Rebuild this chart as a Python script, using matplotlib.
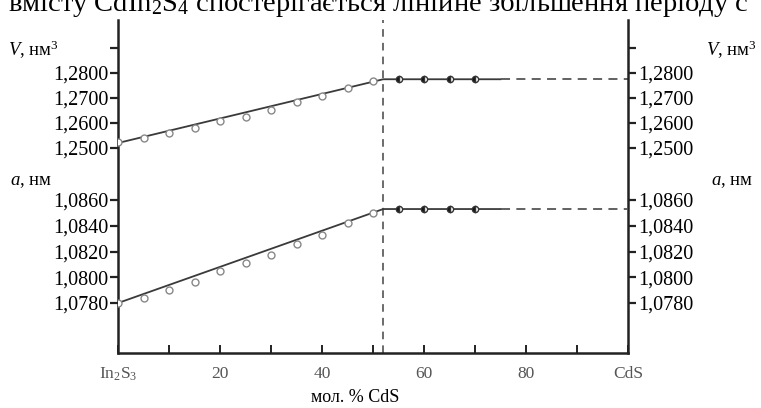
import matplotlib
matplotlib.use("Agg")
import matplotlib.pyplot as plt

plt.rcParams['font.family'] = ['Liberation Serif', 'DejaVu Serif']
plt.rcParams['mathtext.fontset'] = 'custom'
plt.rcParams['mathtext.rm'] = 'Liberation Serif'
plt.rcParams['mathtext.it'] = 'Liberation Serif:italic'

# Data (mol. % CdS vs lattice parameters)
x_open = [0, 5, 10, 15, 20, 25, 30, 35, 40, 45, 50]
v_open = [1.2522, 1.2541, 1.2559, 1.2579, 1.2608, 1.2625, 1.2650, 1.2682, 1.2708, 1.2740, 1.2767]
a_open = [1.0780, 1.0784, 1.0790, 1.0796, 1.0805, 1.0811, 1.0817, 1.0826, 1.0833, 1.0842, 1.0850]

x_closed = [55, 60, 65, 70]
v_closed = [1.2775, 1.2775, 1.2775, 1.2775]
a_closed = [1.0853, 1.0853, 1.0853, 1.0853]

x_fit = [0, 52, 75]
v_fit = [1.2520, 1.2775, 1.2775]
a_fit = [1.0780, 1.0853, 1.0853]

x_ext = [75, 100]
v_ext = [1.2775, 1.2775]
a_ext = [1.0853, 1.0853]

x_boundary = 52

v_ticks = [1.25, 1.26, 1.27, 1.28, 1.29]
v_labels = ['1,2500', '1,2600', '1,2700', '1,2800', '']
a_ticks = [1.078, 1.080, 1.082, 1.084, 1.086]
a_labels = ['1,0780', '1,0800', '1,0820', '1,0840', '1,0860']
x_ticks = [0, 20, 40, 60, 80, 100]
x_labels = ['In$_2$S$_3$', '20', '40', '60', '80', 'CdS']

W, H = 761, 408
fig = plt.figure(figsize=(W / 100, H / 100), dpi=100)
rect = [118 / W, 55 / H, 510 / W, 333 / H]

ax_v = fig.add_axes(rect)
ax_a = fig.add_axes(rect, sharex=ax_v)
ax_a.patch.set_alpha(0)

line_c = '#3a3a3a'
for ax, yo, yc, yf, ye in [(ax_v, v_open, v_closed, v_fit, v_ext),
                           (ax_a, a_open, a_closed, a_fit, a_ext)]:
    ax.plot(x_fit, yf, color=line_c, lw=1.3, zorder=2)
    ax.plot(x_ext, ye, color='#555555', lw=1.3, dashes=(5, 3.5), zorder=2)
    ax.plot(x_open, yo, 'o', ms=5, mfc='white', mec='#888888', mew=1.0, zorder=3)
    ax.plot(x_closed, yc, 'o', ms=4.5, fillstyle='left', mfc='#111111',
            markerfacecoloralt='white', mec='#333333', mew=1.0, zorder=3)

ax_v.set_xlim(0, 100)
ax_v.set_ylim(1.168, 1.3012)
ax_a.set_ylim(1.07412, 1.09998)

ax_v.axvline(x_boundary, color='#444444', lw=1.1, dashes=(5, 4), zorder=1)

# spines
for s in ['left', 'right', 'bottom']:
    ax_v.spines[s].set_linewidth(1.8)
    ax_v.spines[s].set_color('#222222')
ax_v.spines['top'].set_visible(False)
for s in ax_a.spines.values():
    s.set_visible(False)

# y ticks on both sides
ax_v.set_yticks(v_ticks)
ax_v.set_yticklabels(v_labels)
ax_a.set_yticks(a_ticks)
ax_a.set_yticklabels(a_labels)
for ax in (ax_v, ax_a):
    ax.tick_params(axis='y', which='both', left=True, right=True,
                   labelleft=True, labelright=True, direction='out',
                   length=6, width=1.6, pad=1, labelsize=14.5, color='#222222')

# x ticks
ax_v.set_xticks(x_ticks)
ax_v.set_xticklabels(x_labels)
ax_v.set_xticks([10, 30, 50, 70, 90], minor=True)
ax_v.tick_params(axis='x', which='both', direction='in', length=6, width=1.4,
                 pad=9, labelsize=12.5, labelcolor='#555555', color='#222222')
ax_a.tick_params(axis='x', which='both', bottom=False, labelbottom=False)

ax_v.annotate('мол. % CdS', xy=(46.5, 0), xycoords=('data', 'axes fraction'),
              xytext=(0, -32), textcoords='offset points', ha='center', va='center',
              fontsize=13)

# axis titles
fig.text(8 / W, 1 - 50 / H, r'$V$, нм$^3$', fontsize=13.5, ha='left', va='center')
fig.text(706 / W, 1 - 50 / H, r'$V$, нм$^3$', fontsize=13.5, ha='left', va='center')
fig.text(10 / W, 1 - 181 / H, r'$a$, нм', fontsize=13.5, ha='left', va='center')
fig.text(711 / W, 1 - 181 / H, r'$a$, нм', fontsize=13.5, ha='left', va='center')

# clipped line of body text at the top of the page
fig.text(8 / W, 1 - 11 / H, 'вмісту CdIn$_2$S$_4$ спостерігається лінійне збільшення періоду с',
         fontsize=20.5, ha='left', va='baseline')

fig.savefig('out.png', dpi=100)
